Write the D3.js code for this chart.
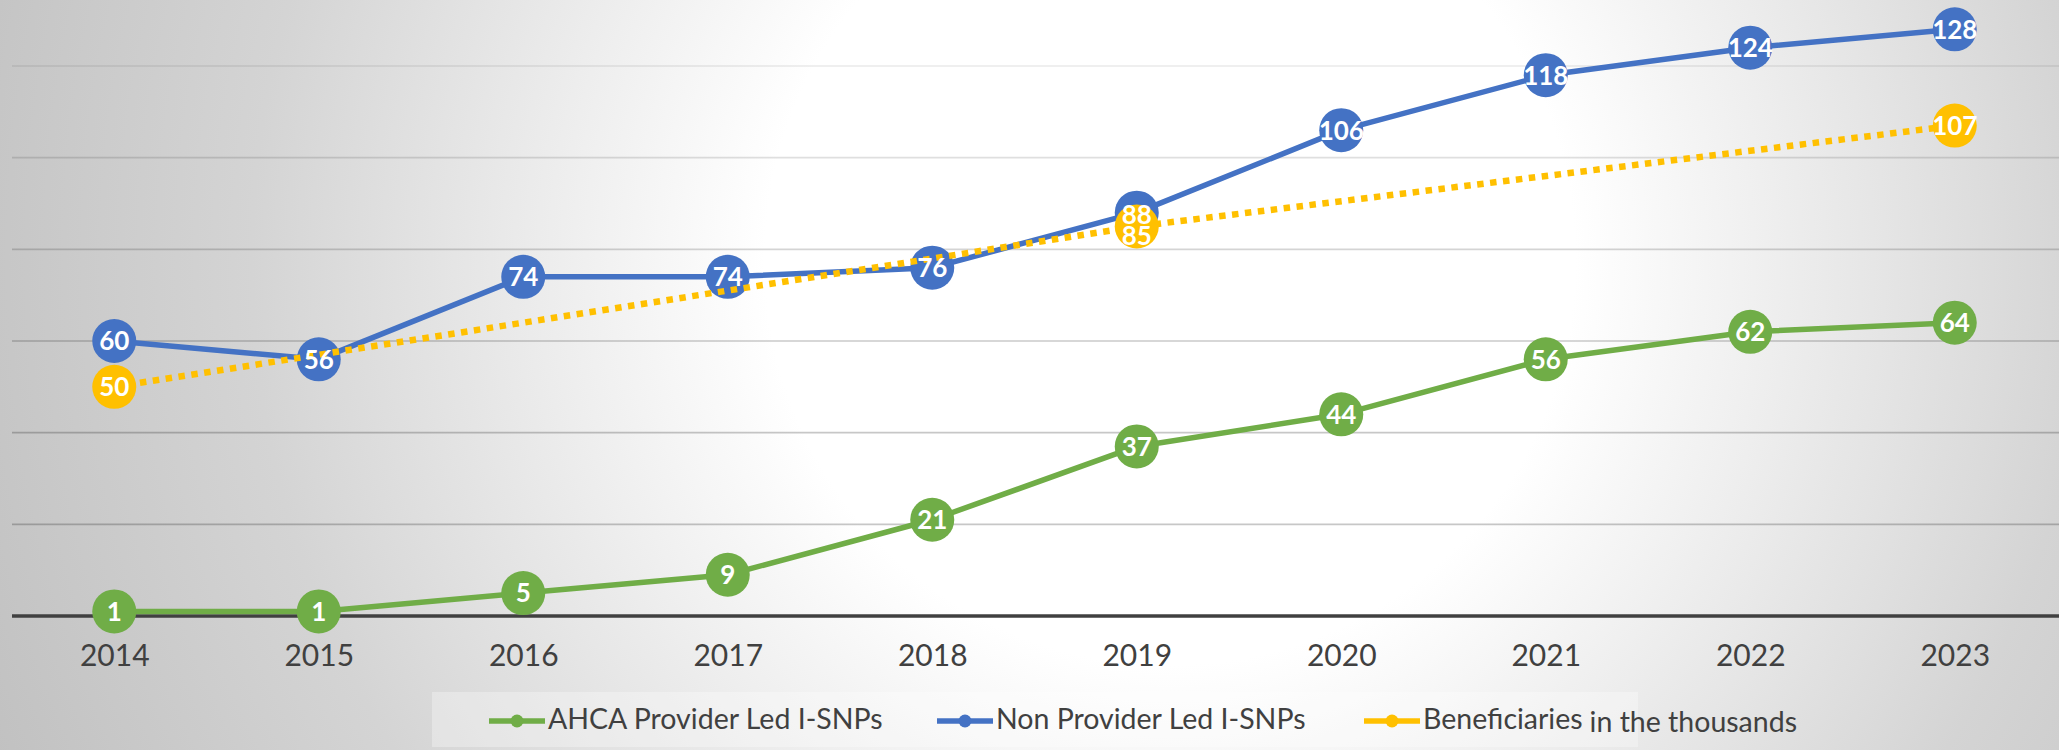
<!DOCTYPE html>
<html>
<head>
<meta charset="utf-8">
<script src="https://cdn.jsdelivr.net/npm/d3@7"></script>
<style>
  body { margin: 0; background: #fff; }
  svg { display: block; }
  text { font-family: Lato, "Open Sans", sans-serif; }
</style>
</head>
<body>
<svg id="chart" width="2059" height="750"></svg>
<script>
const years = ['2014', '2015', '2016', '2017', '2018', '2019', '2020', '2021', '2022', '2023'];
const ahca = [1, 1, 5, 9, 21, 37, 44, 56, 62, 64];
const nonProvider = [60, 56, 74, 74, 76, 88, 106, 118, 124, 128];
// beneficiaries only known for a few years, line joins across the gaps
const beneficiaries = [50, null, null, null, null, 85, null, null, null, 107];
const yTicks = [0, 20, 40, 60, 80, 100, 120];

const series = [
    { name: 'AHCA Provider Led I-SNPs', values: ahca, color: '#70AD47', dotted: false },
    { name: 'Non Provider Led I-SNPs', values: nonProvider, color: '#4472C4', dotted: false },
    { name: 'Beneficiaries', extra: 'in the thousands', values: beneficiaries, color: '#FFC000', dotted: true }
];

const W = 2059, H = 750;
const svg = d3.select('#chart');

// background: soft radial light, grey toward the edges
const defs = svg.append('defs');
const grad = defs.append('radialGradient')
    .attr('id', 'bg')
    .attr('gradientUnits', 'userSpaceOnUse')
    .attr('cx', 1170).attr('cy', 260).attr('r', 1350);
grad.append('stop').attr('offset', 0).attr('stop-color', '#ffffff');
grad.append('stop').attr('offset', 0.3).attr('stop-color', '#ffffff');
grad.append('stop').attr('offset', 0.68).attr('stop-color', '#d4d4d4');
grad.append('stop').attr('offset', 1).attr('stop-color', '#bdbdbd');
svg.append('rect').attr('width', W).attr('height', H).attr('fill', 'url(#bg)');

const x = d3.scalePoint().domain(years).range([12, 2057]).padding(0.5);
const y = d3.scaleLinear().domain([0, 120]).range([616, 66]);

// gridlines (lighter toward the top)
svg.append('g').selectAll('line')
    .data(yTicks.filter(d => d > 0))
    .join('line')
    .attr('x1', 12).attr('x2', W)
    .attr('y1', d => y(d)).attr('y2', d => y(d))
    .attr('stroke', '#000')
    .attr('stroke-opacity', d => d >= 60 ? 0.085 + (120 - d) / 60 * 0.125 : 0.22)
    .attr('stroke-width', 1.6);

// x axis
const xAxis = svg.append('g')
    .attr('transform', `translate(0,${y(0)})`)
    .call(d3.axisBottom(x).tickSize(0).tickPadding(29));
xAxis.select('.domain').remove();
xAxis.selectAll('text')
    .attr('font-size', 30)
    .attr('fill', '#404040')
    .attr('font-family', 'Lato, sans-serif');
svg.append('line')
    .attr('x1', 12).attr('x2', W)
    .attr('y1', y(0)).attr('y2', y(0))
    .attr('stroke', '#404040').attr('stroke-width', 3.5);

const line = d3.line()
    .x(d => x(d.year))
    .y(d => y(d.value));

const labels = [];
series.forEach(s => {
    const pts = years.map((yr, i) => ({ year: yr, value: s.values[i] }))
        .filter(d => d.value != null);
    const g = svg.append('g');
    g.append('path')
        .datum(pts)
        .attr('d', line)
        .attr('fill', 'none')
        .attr('stroke', s.color)
        .attr('stroke-width', s.dotted ? 6.5 : 5.5)
        .attr('stroke-dasharray', s.dotted ? '6.5 6.5' : null)
        .attr('stroke-linejoin', 'round');
    g.selectAll('circle')
        .data(pts)
        .join('circle')
        .attr('cx', d => x(d.year))
        .attr('cy', d => y(d.value))
        .attr('r', 22)
        .attr('fill', s.color);
    pts.forEach(d => labels.push({ x: x(d.year), y: y(d.value), text: d.value }));
});

// nudge labels that sit on top of each other
d3.groups(labels, d => d.x).forEach(([, grp]) => {
    grp.sort((a, b) => a.y - b.y);
    for (let i = 1; i < grp.length; i++) {
        if (grp[i].y - grp[i - 1].y < 20) {
            grp[i - 1].y += 2;
            grp[i].y = grp[i - 1].y + 21;
        }
    }
});

svg.append('g').selectAll('text')
    .data(labels)
    .join('text')
    .attr('x', d => d.x)
    .attr('y', d => d.y)
    .attr('dy', '0.36em')
    .attr('text-anchor', 'middle')
    .attr('font-size', 26)
    .attr('font-weight', 'bold')
    .attr('fill', '#fff')
    .text(d => d.text);

// legend
svg.append('rect')
    .attr('x', 432).attr('y', 692)
    .attr('width', 1206).attr('height', 55)
    .attr('fill', '#fff').attr('fill-opacity', 0.3);

const legendX = [489, 937, 1364];
const legend = svg.append('g').selectAll('g')
    .data(series)
    .join('g')
    .attr('transform', (d, i) => `translate(${legendX[i]},721)`);
legend.append('line')
    .attr('x1', 0).attr('x2', 56)
    .attr('stroke', d => d.color).attr('stroke-width', 5.5);
legend.append('circle')
    .attr('cx', 28).attr('r', 6.5)
    .attr('fill', d => d.color);
const lt = legend.append('text')
    .attr('x', 59).attr('y', 8)
    .attr('font-size', 28.5)
    .attr('fill', '#404040');
lt.append('tspan').text(d => d.name);
lt.filter(d => d.extra).append('tspan')
    .attr('dx', 7).attr('dy', 3)
    .text(d => d.extra);
</script>
</body>
</html>
